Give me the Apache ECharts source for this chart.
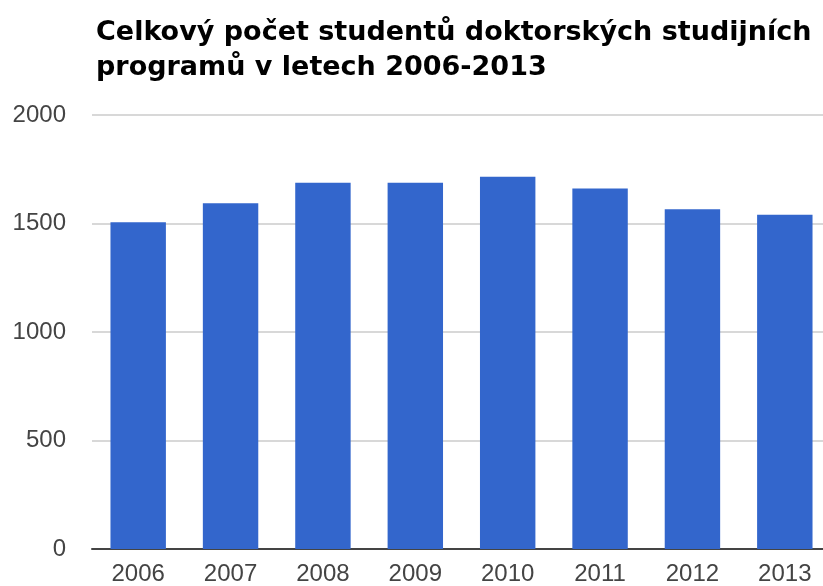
<!DOCTYPE html>
<html>
<head>
<meta charset="utf-8">
<script src="https://cdn.jsdelivr.net/npm/echarts@6/dist/echarts.min.js"></script>
<style>html,body{margin:0;padding:0;background:#fff;overflow:hidden}#c{width:832px;height:586px}</style>
</head>
<body>
<div id="c"></div>
<script>
const titleText = 'Celkový počet studentů doktorských studijních\nprogramů v letech 2006-2013';
const categories = ['2006', '2007', '2008', '2009', '2010', '2011', '2012', '2013'];
const students = [1506, 1593, 1688, 1688, 1716, 1661, 1566, 1540];
const yTicks = [0, 500, 1000, 1500, 2000];

const chart = echarts.init(document.getElementById('c'), null, {renderer: 'canvas'});
chart.setOption({
  animation: false,
  backgroundColor: '#fff',
  title: {
    text: titleText,
    left: 91,
    top: 10,
    textStyle: {fontFamily: 'DejaVu Sans, sans-serif', fontWeight: 'bold', fontSize: 27, color: '#000', lineHeight: 35}
  },
  grid: {left: 92, top: 115, right: 1, height: 434, containLabel: false},
  xAxis: {
    type: 'category',
    data: categories,
    axisLine: {show: true, lineStyle: {color: '#444', width: 2}},
    axisTick: {show: false},
    axisLabel: {fontFamily: 'Liberation Sans, Arial, sans-serif', fontSize: 24, color: '#444', margin: 13}
  },
  yAxis: {
    type: 'value',
    min: yTicks[0],
    max: yTicks[yTicks.length - 1],
    interval: 500,
    axisLine: {show: false},
    axisTick: {show: false},
    splitLine: {lineStyle: {color: '#d8d8d8', width: 2}},
    axisLabel: {fontFamily: 'Liberation Sans, Arial, sans-serif', fontSize: 24, color: '#444', margin: 26,
      formatter: function (v) { return String(v); }}
  },
  series: [{
    type: 'bar',
    data: students,
    barWidth: '60%',
    itemStyle: {color: '#3366cc'}
  }]
});
</script>
</body>
</html>
